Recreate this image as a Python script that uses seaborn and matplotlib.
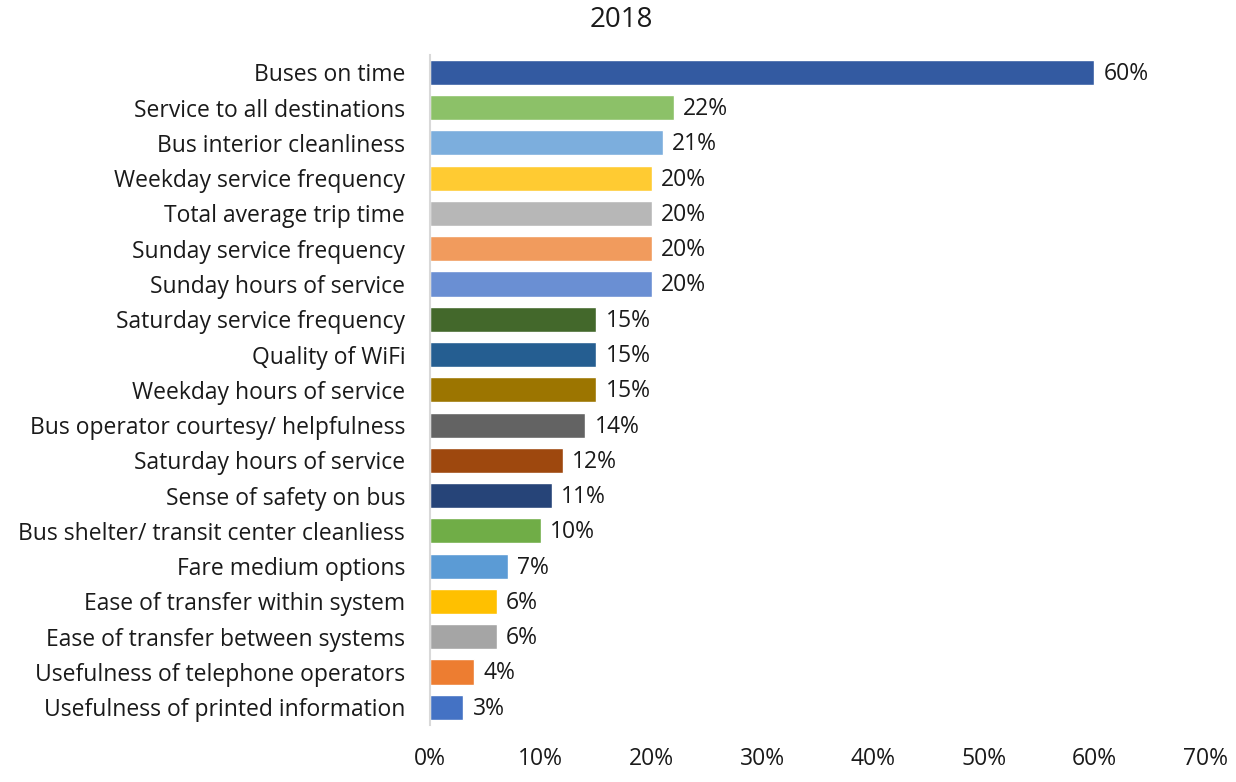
import matplotlib
matplotlib.use("Agg")
import matplotlib.pyplot as plt
import seaborn as sns
import pandas as pd
from matplotlib.ticker import FuncFormatter

categories = [
    "Buses on time",
    "Service to all destinations",
    "Bus interior cleanliness",
    "Weekday service frequency",
    "Total average trip time",
    "Sunday service frequency",
    "Sunday hours of service",
    "Saturday service frequency",
    "Quality of WiFi",
    "Weekday hours of service",
    "Bus operator courtesy/ helpfulness",
    "Saturday hours of service",
    "Sense of safety on bus",
    "Bus shelter/ transit center cleanliess",
    "Fare medium options",
    "Ease of transfer within system",
    "Ease of transfer between systems",
    "Usefulness of telephone operators",
    "Usefulness of printed information",
]
values = [60, 22, 21, 20, 20, 20, 20, 15, 15, 15, 14, 12, 11, 10, 7, 6, 6, 4, 3]
colors = [
    "#335AA1", "#8CC168", "#7CAEDD", "#FFCB32", "#B7B7B7", "#F19B5D",
    "#6A8FD3", "#43682B", "#255E91", "#9C7500", "#636363", "#9E480E",
    "#264478", "#70AD47", "#5B9BD5", "#FFC000", "#A5A5A5", "#ED7D31",
    "#4472C4",
]
xticks = [0, 10, 20, 30, 40, 50, 60, 70]
title = "2018"

sns.set_style("white")
plt.rcParams["font.family"] = ["Open Sans", "DejaVu Sans"]

df = pd.DataFrame({"category": categories, "value": values})

fig = plt.figure(figsize=(12.36, 7.82), dpi=100)
ax = fig.add_axes([0.348, 0.073, 0.627, 0.857])

sns.barplot(data=df, y="category", x="value", hue="category",
            palette=colors, order=categories, hue_order=categories,
            orient="h", width=0.71, legend=False, ax=ax, saturation=1)

for p, v in zip(ax.patches, values):
    ax.text(p.get_width() + 0.85, p.get_y() + p.get_height() / 2 + 0.04, f"{v}%",
            va="center", ha="left", fontsize=16.5, color="#1a1a1a")

ax.set_xlim(0, 70)
ax.set_ylim(len(categories) - 0.5, -0.5)
ax.set_xticks(xticks)
ax.xaxis.set_major_formatter(FuncFormatter(lambda x, _: f"{x:.0f}%"))
ax.set_xlabel("")
ax.set_ylabel("")
ax.tick_params(axis="both", length=0, labelsize=16.5, colors="#1a1a1a")
ax.tick_params(axis="x", pad=16)
ax.tick_params(axis="y", pad=18)
for s in ["top", "right", "bottom"]:
    ax.spines[s].set_visible(False)
ax.spines["left"].set_color("#D9D9D9")
ax.spines["left"].set_linewidth(1.5)
ax.grid(False)

fig.text(0.503, 0.975, title, ha="center", va="center", fontsize=20, color="#1a1a1a")

fig.savefig("out.png", dpi=100, facecolor="white")
